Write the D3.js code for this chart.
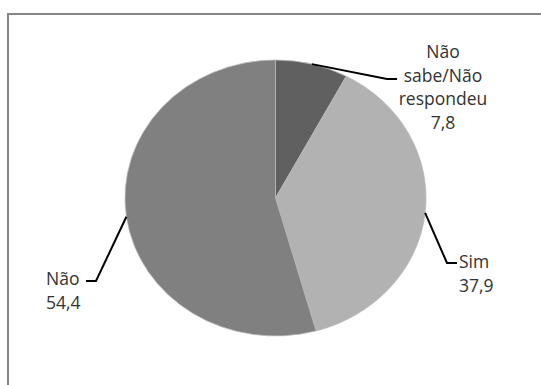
<!DOCTYPE html>
<html>
<head>
<meta charset="utf-8">
<script src="https://cdn.jsdelivr.net/npm/d3@7"></script>
<style>
  html, body { margin: 0; padding: 0; background: #fff; }
  svg { display: block; }
  text { font-family: "Open Sans", "Noto Sans", sans-serif; font-size: 17.5px; fill: #333; }
</style>
</head>
<body>
<svg id="chart" width="541" height="385"></svg>
<script>
// Answer shares (%), in clockwise order from 12 o'clock
const categories = ["Não sabe/Não respondeu", "Sim", "Não"];
const values = [7.8, 37.9, 54.4];
const valueLabels = ["7,8", "37,9", "54,4"];
const labelLines = [["Não", "sabe/Não", "respondeu", "7,8"], ["Sim", "37,9"], ["Não", "54,4"]];
const colors = ["#606060", "#b2b2b2", "#808080"];

const svg = d3.select("#chart");

// outer frame
svg.append("rect")
  .attr("x", 8).attr("y", 14)
  .attr("width", 700).attr("height", 600)
  .attr("fill", "none")
  .attr("stroke", "#878787")
  .attr("stroke-width", 2);

const cx = 275.5, cy = 198, rx = 150.5, ry = 138;
const sx = rx / ry;

const pie = d3.pie().sort(null).value(d => d)(values);
const arc = d3.arc().innerRadius(0).outerRadius(ry);

const g = svg.append("g").attr("transform", `translate(${cx},${cy}) scale(${sx},1)`);
g.selectAll("path")
  .data(pie)
  .join("path")
  .attr("d", arc)
  .attr("fill", (d, i) => colors[i])
  .attr("stroke", "#b8b8b8")
  .attr("stroke-width", 0.8)
  .attr("vector-effect", "non-scaling-stroke");

// point on the elliptical rim at the middle of a slice
function rimPoint(d) {
  const a = (d.startAngle + d.endAngle) / 2;
  return [cx + rx * Math.sin(a), cy - ry * Math.cos(a)];
}

// leader line layout: elbow, end of the horizontal tick, text anchor
const layout = [
  { elbow: [387, 79], end: [397, 79], tx: 443, ty: 58, anchor: "middle", lineH: 23.5 },
  { elbow: [447, 263], end: [457, 263], tx: 459, ty: 268, anchor: "start", lineH: 23.5 },
  { elbow: [96, 281], end: [86, 281], tx: 46, ty: 285, anchor: "start", lineH: 23.5 }
];

pie.forEach((d, i) => {
  const p = rimPoint(d);
  const L = layout[i];
  svg.append("path")
    .attr("d", d3.line()([p, L.elbow, L.end]))
    .attr("fill", "none")
    .attr("stroke", "#000")
    .attr("stroke-width", 2);
  const t = svg.append("text")
    .attr("text-anchor", L.anchor);
  labelLines[i].forEach((s, j) => {
    t.append("tspan")
      .attr("x", L.tx)
      .attr("y", L.ty + j * L.lineH)
      .text(s);
  });
});
</script>
</body>
</html>
